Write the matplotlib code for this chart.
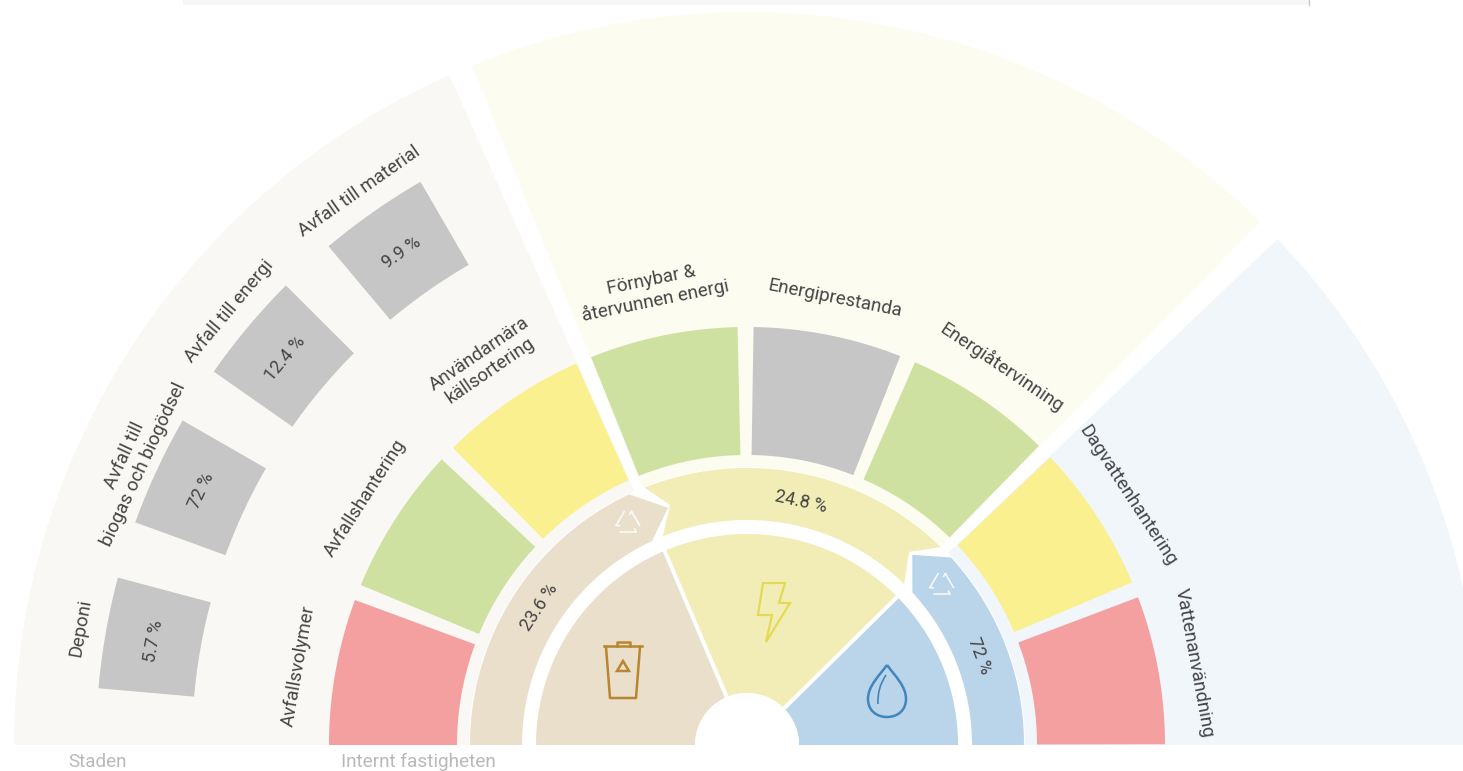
import numpy as np
import matplotlib
matplotlib.use('Agg')
import matplotlib.pyplot as plt
from matplotlib.patches import Polygon, Circle, PathPatch
from matplotlib.path import Path

# Teman och indikatorer
themes = ['Avfall', 'Energi', 'Vatten']
theme_cells = [3, 3, 2]
theme_values = ['23.6 %', '24.8 %', '72 %']
theme_value_angles = [146.5, 77.6, 20.9]

cell_labels = ['Avfallsvolymer', 'Avfallshantering', 'Användarnära\nkällsortering',
               'Förnybar &\nåtervunnen energi', 'Energiprestanda', 'Energiåtervinning',
               'Dagvattenhantering', 'Vattenanvändning']
cell_status = ['red', 'green', 'yellow', 'green', 'grey', 'green', 'yellow', 'red']

city_labels = ['Deponi', 'Avfall till\nbiogas och biogödsel', 'Avfall till energi', 'Avfall till material']
city_values = ['5.7 %', '72 %', '12.4 %', '9.9 %']

group_labels = ['Staden', 'Internt fastigheten']

# Färger
status_colors = {'red': '#f4a0a1', 'green': '#cfe1a0', 'yellow': '#faf08f', 'grey': '#c6c6c7'}
theme_colors = ['#e9dfca', '#f2edb6', '#bad4ea']
back_colors = ['#faf8f4', '#fdfcf1', '#f1f6fb']
text_color = '#454545'

# Geometri
start = 181.4
step = 22.8
gap = 1.1
r_hole, r_inner = 52, 211
r_ring0, r_ring1 = 225, 277
r_cell0, r_cell1 = 290, 418
r_back0, r_back1 = 278, 733
r_city0, r_city1 = 555, 651


def arc(a0, a1, r):
    t = np.radians(np.linspace(a0, a1, 80))
    return np.column_stack([r * np.cos(t), r * np.sin(t)])


def polar(a, r):
    return np.array([[r * np.cos(np.radians(a)), r * np.sin(np.radians(a))]])


def add_shape(ax, pts, color, z=1):
    pts = np.array(pts)
    pts[:, 1] = np.maximum(pts[:, 1], 0)  # kapas vid baslinjen
    ax.add_patch(Polygon(pts, closed=True, fc=color, ec='none', zorder=z))


def sector(ax, a0, a1, r0, r1, color, z=1):
    add_shape(ax, np.vstack([arc(a0, a1, r1), arc(a1, a0, r0)]), color, z)


def put_text(ax, a, r, s, size=13.5, z=5):
    p = polar(a, r)[0]
    rot = a - 90
    ax.text(p[0], p[1], s, rotation=rot, rotation_mode='anchor', ha='center', va='center',
            fontsize=size, color=text_color, zorder=z, linespacing=1.15)


plt.rcParams['font.family'] = ['Roboto', 'DejaVu Sans']
fig = plt.figure(figsize=(14.63, 7.71), dpi=100)
ax = fig.add_axes([0, 0, 1, 1])
ax.set_xlim(-747, 716)
ax.set_ylim(-26, 745)
ax.axis('off')

# Remsa längst upp
ax.fill_between([-564, 562], 740, 745, color='#f6f6f6', lw=0)
ax.plot([562, 562], [740, 745], color='#c9c9c9', lw=1)

edges = start - step * np.cumsum([0] + theme_cells)

for i in range(len(themes)):
    sector(ax, edges[i] - (gap - 0.15 if i else 0), edges[i + 1] + gap - 0.15, r_back0, r_back1, back_colors[i])
    # vit spalt med konstant bredd mellan innersektorerna
    a_out = np.degrees(np.arcsin(2 / r_inner))
    a_in = np.degrees(np.arcsin(2 / r_hole))
    pts = np.vstack([arc(edges[i] - (a_out if i else 0), edges[i + 1] + (a_out if i < 2 else 0), r_inner),
                     arc(edges[i + 1] + (a_in if i < 2 else 0), edges[i] - (a_in if i else 0), r_hole)])
    add_shape(ax, pts, theme_colors[i], 2)

# Ringen med pilformade ändar
ring_a = np.vstack([arc(start, 115.2, r_ring1), polar(108.4, 250), arc(115.0, start, r_ring0)])
ring_b = np.vstack([arc(111.7, 45.6, r_ring1), polar(50, 252), arc(45.7, 112, r_ring0), polar(107.8, 252)])
ring_c = np.vstack([arc(42.6, -1, r_ring1), arc(-1, 42.7, r_ring0), polar(49, 252)])
for pts, col in zip([ring_a, ring_b, ring_c], theme_colors):
    add_shape(ax, pts, col, 2)

ax.add_patch(Circle((0, 0), r_hole, fc='white', ec='none', zorder=3))

# Indikatorer runt ringen
for i, (lab, st) in enumerate(zip(cell_labels, cell_status)):
    a0 = start - step * i
    sector(ax, a0 - gap if i else a0, a0 - step + gap, r_cell0, r_cell1, status_colors[st], 3)
    put_text(ax, a0 - step / 2, 464 if '\n' in lab else 455, lab)

# Stadens indikatorer
for i, (lab, val) in enumerate(zip(city_labels, city_values)):
    a1 = 175 - 15 * i
    sector(ax, a1, a1 - 9.9, r_city0, r_city1, status_colors['grey'], 3)
    put_text(ax, a1 - 4.95, 676, lab)
    put_text(ax, a1 - 4.95, 602, val, 13)

for a, val in zip(theme_value_angles, theme_values):
    put_text(ax, a, 249, val, 13)

# Ikoner
bin_c = '#b8862e'
cx, cy = -124, 73
ax.plot(cx + np.array([-19, 19]), cy + np.array([26, 26]), color=bin_c, lw=1.8, zorder=6)
ax.plot(cx + np.array([-6, -6, 7, 7]), cy + np.array([26, 30, 30, 26]), color=bin_c, lw=1.8, zorder=6)
ax.plot(cx + np.array([-17, -13, 13, 17]), cy + np.array([25, -26, -26, 25]), color=bin_c, lw=1.8, zorder=6)
ax.add_patch(Polygon(np.column_stack([cx + np.array([-6, 6, 0]), cy + np.array([1, 1, 11])]),
                     closed=True, fc='none', ec=bin_c, lw=1.8, zorder=6))

bolt_x = np.array([-11, 11, 5, 16, -8, -2, -16])
bolt_y = np.array([29, 29, 9, 9, -30, -3, -3])
ax.add_patch(Polygon(np.column_stack([27 + bolt_x, 133 + bolt_y]), closed=True, fc='none',
                     ec='#e2da55', lw=1.6, zorder=6))

drop_c = '#3f86bf'
dx, dy = 140, 53
drop = Path([(dx, dy + 27), (dx + 8, dy + 16), (dx + 19, dy + 6), (dx + 19, dy - 7),
             (dx + 19, dy - 18), (dx + 11, dy - 25), (dx, dy - 25),
             (dx - 11, dy - 25), (dx - 19, dy - 18), (dx - 19, dy - 7),
             (dx - 19, dy + 6), (dx - 8, dy + 16), (dx, dy + 27)],
            [Path.MOVETO] + [Path.CURVE4] * 12)
ax.add_patch(PathPatch(drop, fc='none', ec=drop_c, lw=1.8, zorder=6))
shine = Path([(dx - 9, dy - 12), (dx - 10, dy + 4), (dx - 1, dy + 17)], [Path.MOVETO, Path.CURVE3, Path.CURVE3])
ax.add_patch(PathPatch(shine, fc='none', ec=drop_c, lw=1.2, zorder=6))


# Återvinningssymbol, tre pilar i en triangel
def recycle(ax, a, r, size=12):
    c = polar(a, r)[0]
    for k in range(3):
        t0 = np.radians(90 + 120 * k + 18)
        t1 = np.radians(90 + 120 * k + 102)
        p0 = c + size * np.array([np.cos(t0), np.sin(t0)])
        p1 = c + size * np.array([np.cos(t1), np.sin(t1)])
        ax.plot([p0[0], p1[0]], [p0[1], p1[1]], color='white', lw=1.2, alpha=0.85, zorder=6, solid_capstyle='round')
        hook = np.radians(90 + 120 * k + 108)
        ax.plot([p1[0], c[0] + size * 0.75 * np.cos(hook)], [p1[1], c[1] + size * 0.75 * np.sin(hook)],
                color='white', lw=1.2, alpha=0.85, zorder=6)


recycle(ax, 118.2, 252)
recycle(ax, 39.4, 252)

# Gruppnamn under diagrammet
ax.text(-679, -17, group_labels[0], fontsize=13.5, color='#b9b9b9', va='center', ha='left')
ax.text(-406, -17, group_labels[1], fontsize=13.7, color='#b9b9b9', va='center', ha='left')

fig.savefig('out.png', dpi=100, facecolor='white')
